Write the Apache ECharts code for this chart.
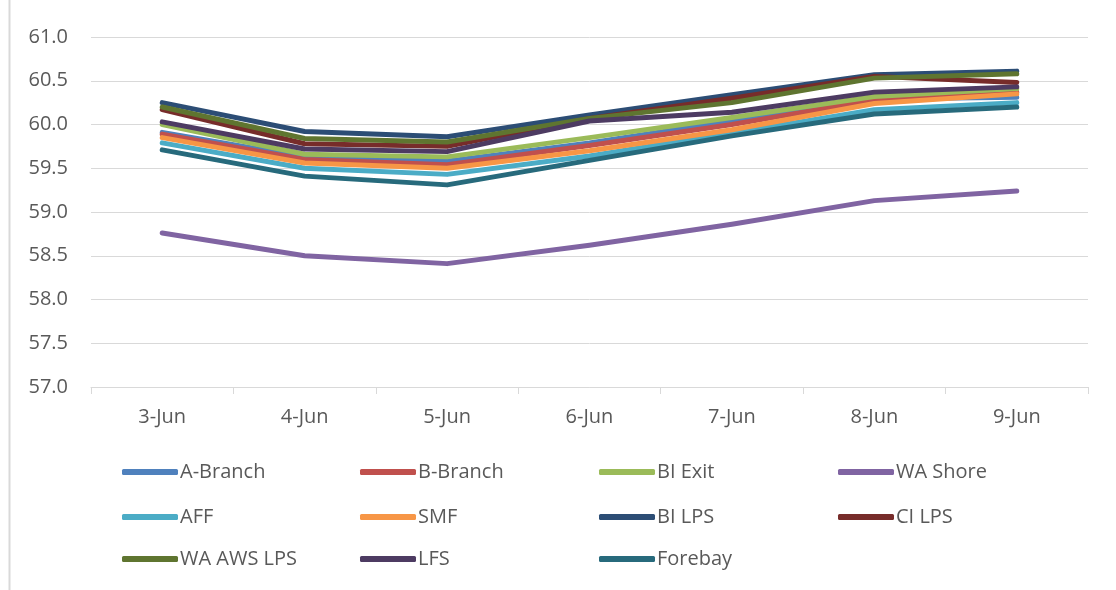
<!DOCTYPE html>
<html><head><meta charset="utf-8">
<script src="https://cdn.jsdelivr.net/npm/echarts@6/dist/echarts.min.js"></script>
<style>html,body{margin:0;padding:0;background:#fff}#c{width:1116px;height:590px}</style>
</head><body><div id="c"></div>
<script>
const categories = ['3-Jun','4-Jun','5-Jun','6-Jun','7-Jun','8-Jun','9-Jun'];
const yTicks = [57.0, 61.0, 0.5];
const aBranch  = [59.91, 59.63, 59.58, 59.79, 60.04, 60.29, 60.31];
const bBranch  = [59.89, 59.60, 59.54, 59.76, 60.00, 60.28, 60.37];
const biExit   = [60.00, 59.66, 59.63, 59.85, 60.08, 60.32, 60.41];
const waShore  = [58.76, 58.50, 58.41, 58.62, 58.86, 59.13, 59.24];
const aff      = [59.79, 59.50, 59.43, 59.64, 59.90, 60.17, 60.25];
const smf      = [59.85, 59.56, 59.50, 59.70, 59.94, 60.24, 60.35];
const biLps    = [60.25, 59.92, 59.86, 60.11, 60.34, 60.57, 60.61];
const ciLps    = [60.17, 59.78, 59.75, 60.07, 60.30, 60.55, 60.48];
const waAwsLps = [60.20, 59.84, 59.80, 60.07, 60.25, 60.53, 60.58];
const lfs      = [60.03, 59.72, 59.69, 60.04, 60.14, 60.37, 60.43];
const forebay  = [59.71, 59.41, 59.31, 59.59, 59.87, 60.12, 60.20];

const seriesNames = ['A-Branch','B-Branch','BI Exit','WA Shore','AFF','SMF','BI LPS','CI LPS','WA AWS LPS','LFS','Forebay'];
const seriesData = [aBranch,bBranch,biExit,waShore,aff,smf,biLps,ciLps,waAwsLps,lfs,forebay];
const colors = ['#4F81BD','#C0504D','#9BBB59','#8064A2','#4BACC6','#F79646','#2C4D75','#772C2A','#5F7530','#4D3B62','#276A7C'];

const font = '"Open Sans", "Noto Sans", sans-serif';
const chart = echarts.init(document.getElementById('c'), null, {renderer:'canvas'});

const legendTops = [462, 507, 549];
const colLefts = [122, 360, 599, 838];
const legends = seriesNames.map((n, i) => ({
  data: [n],
  left: colLefts[i % 4], top: legendTops[Math.floor(i / 4)],
  padding: 0,
  icon: 'roundRect',
  itemWidth: 56, itemHeight: 6, itemGap: 0,
  textStyle: {fontFamily: font, fontSize: 20, color: '#595959', padding: [0,0,0,-3]},
  selectedMode: false
}));

chart.setOption({
  animation: false,
  color: colors,
  grid: {left: 91, right: 28, top: 37, height: 350, containLabel: false},
  xAxis: {
    type: 'category', data: categories, boundaryGap: true,
    axisLine: {show: true, lineStyle: {color: '#d9d9d9', width: 1}},
    axisTick: {show: true, length: 7, lineStyle: {color: '#d9d9d9'}},
    axisLabel: {fontFamily: font, fontSize: 20, color: '#595959', margin: 20},
    splitLine: {show: false}
  },
  yAxis: {
    type: 'value', min: yTicks[0], max: yTicks[1], interval: yTicks[2],
    axisLine: {show: false}, axisTick: {show: false},
    axisLabel: {fontFamily: font, fontSize: 20, color: '#595959', margin: 23,
      formatter: v => v.toFixed(1)},
    splitLine: {lineStyle: {color: '#d9d9d9', width: 1}}
  },
  legend: legends,
  graphic: [{type: 'line', shape: {x1: 9.5, y1: 0, x2: 9.5, y2: 590}, style: {stroke: '#d9d9d9', lineWidth: 2}}],
  series: seriesNames.map((n, i) => ({
    name: n, type: 'line', data: seriesData[i],
    symbol: 'none', smooth: false,
    lineStyle: {width: 5, color: colors[i], cap: 'round', join: 'round'},
    itemStyle: {color: colors[i]}
  }))
});
</script></body></html>
